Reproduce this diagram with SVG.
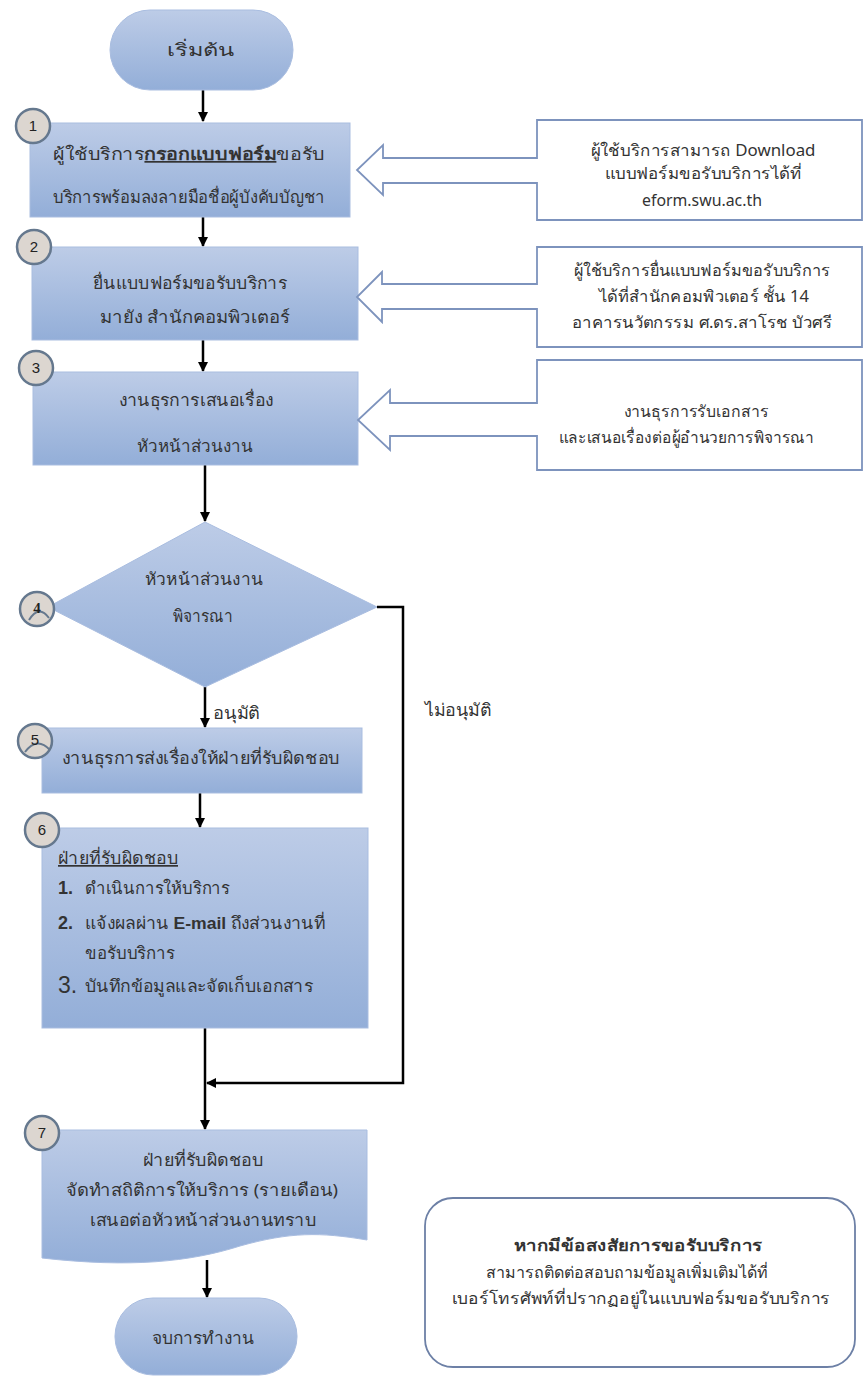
<svg xmlns="http://www.w3.org/2000/svg" width="864" height="1378" viewBox="0 0 864 1378">
<style>
text{font-family:"Noto Sans","DejaVu Sans","Liberation Sans",sans-serif;fill:#333;}
.t{font-size:17px;text-anchor:middle;}
.c{font-size:16px;text-anchor:middle;}
.l{font-size:17px;}
.num{font-family:"Liberation Sans",sans-serif;font-size:15px;text-anchor:middle;fill:#222;}
.box{fill:url(#g);stroke:#a9bde0;stroke-width:1;}
.circ{fill:#dcd6d0;stroke:#65788e;stroke-width:2.5;}
.call{fill:#fff;stroke:#7d93bd;stroke-width:1.8;}
.ln{fill:none;stroke:#000;stroke-width:2.5;}
.arc{fill:none;stroke:#65788e;stroke-width:2;}
</style>
<defs>
<linearGradient id="g" x1="0" y1="0" x2="0" y2="1">
<stop offset="0" stop-color="#bdcce7"/>
<stop offset="1" stop-color="#93aed8"/>
</linearGradient>
<marker id="ah" viewBox="0 0 10 10" refX="9" refY="5" markerWidth="4" markerHeight="4" orient="auto" markerUnits="strokeWidth">
<path d="M0,0 L10,5 L0,10 z" fill="#000"/>
</marker>
</defs>

<g id="connectors">
<path class="ln" d="M203,90 V121" marker-end="url(#ah)"/>
<path class="ln" d="M203,217 V246" marker-end="url(#ah)"/>
<path class="ln" d="M203,340 V371" marker-end="url(#ah)"/>
<path class="ln" d="M205,465 V521" marker-end="url(#ah)"/>
<path class="ln" d="M205,687 V727" marker-end="url(#ah)"/>
<path class="ln" d="M200,793 V827" marker-end="url(#ah)"/>
<path class="ln" d="M205,1028 V1129" marker-end="url(#ah)"/>
<path class="ln" d="M377,607 H403 V1083 H207" marker-end="url(#ah)"/>
<path class="ln" d="M207,1260 V1297" marker-end="url(#ah)"/>
<text x="213" y="719" class="l" textLength="47" lengthAdjust="spacingAndGlyphs">อนุมัติ</text>
<text x="458" y="716" class="t" textLength="67" lengthAdjust="spacingAndGlyphs">ไม่อนุมัติ</text>
</g>

<g id="start">
<rect x="110" y="10" width="183" height="80" rx="40" class="box"/>
<text x="201" y="56" class="t" textLength="68" lengthAdjust="spacingAndGlyphs">เริ่มต้น</text>
</g>

<g id="step1">
<rect x="30" y="123" width="320" height="94" class="box"/>
<text x="189" y="160" class="t" textLength="272" lengthAdjust="spacingAndGlyphs">ผู้ใช้บริการ<tspan font-weight="bold" text-decoration="underline">กรอกแบบฟอร์ม</tspan>ขอรับ</text>
<text x="189" y="203" class="t" textLength="272" lengthAdjust="spacingAndGlyphs">บริการพร้อมลงลายมือชื่อผู้บังคับบัญชา</text>
<circle cx="33" cy="126" r="17" class="circ"/>
<text x="33" y="131" class="num">1</text>
</g>

<g id="note1">
<path class="call" d="M862,120 H537 V158 H383 V145 L357,170 L383,195 V183 H537 V220 H862 Z"/>
<text x="703" y="156" class="c" textLength="225" lengthAdjust="spacingAndGlyphs">ผู้ใช้บริการสามารถ Download</text>
<text x="703" y="179" class="c" textLength="197" lengthAdjust="spacingAndGlyphs">แบบฟอร์มขอรับบริการได้ที่</text>
<text x="702" y="206" class="c" textLength="120" lengthAdjust="spacingAndGlyphs">eform.swu.ac.th</text>
</g>

<g id="step2">
<rect x="32" y="247" width="326" height="93" class="box"/>
<text x="190" y="289" class="t" textLength="194" lengthAdjust="spacingAndGlyphs">ยื่นแบบฟอร์มขอรับบริการ</text>
<text x="195" y="323" class="t" textLength="190" lengthAdjust="spacingAndGlyphs">มายัง สำนักคอมพิวเตอร์</text>
<circle cx="34" cy="247" r="17" class="circ"/>
<text x="34" y="252" class="num">2</text>
</g>

<g id="note2">
<path class="call" d="M862,247 H537 V284 H382 V272 L357,297 L382,322 V309 H537 V347 H862 Z"/>
<text x="702" y="276" class="c" textLength="257" lengthAdjust="spacingAndGlyphs">ผู้ใช้บริการยื่นแบบฟอร์มขอรับบริการ</text>
<text x="704" y="302" class="c" textLength="210" lengthAdjust="spacingAndGlyphs">ได้ที่สำนักคอมพิวเตอร์ ชั้น 14</text>
<text x="702" y="328" class="c" textLength="260" lengthAdjust="spacingAndGlyphs">อาคารนวัตกรรม ศ.ดร.สาโรช บัวศรี</text>
</g>

<g id="step3">
<rect x="33" y="372" width="325" height="93" class="box"/>
<text x="196" y="406" class="t" textLength="155" lengthAdjust="spacingAndGlyphs">งานธุรการเสนอเรื่อง</text>
<text x="195" y="452" class="t" textLength="116" lengthAdjust="spacingAndGlyphs">หัวหน้าส่วนงาน</text>
<circle cx="36" cy="368" r="17" class="circ"/>
<text x="36" y="373" class="num">3</text>
</g>

<g id="note3">
<path class="call" d="M862,360 H537 V403 H390 V390 L358,420 L390,450 V436 H537 V470 H862 Z"/>
<text x="696" y="417" class="c" textLength="145" lengthAdjust="spacingAndGlyphs">งานธุรการรับเอกสาร</text>
<text x="686" y="443" class="c" textLength="255" lengthAdjust="spacingAndGlyphs">และเสนอเรื่องต่อผู้อำนวยการพิจารณา</text>
</g>

<g id="step4">
<polygon points="205,522 377,607 205,687 48,607" class="box"/>
<text x="204" y="585" class="t" textLength="118" lengthAdjust="spacingAndGlyphs">หัวหน้าส่วนงาน</text>
<text x="203" y="622" class="t" textLength="60" lengthAdjust="spacingAndGlyphs">พิจารณา</text>
<circle cx="37" cy="609" r="17" class="circ"/>
<path d="M29,620 Q39,604 49,618" class="arc"/>
<text x="37" y="613" class="num" style="font-family:'Liberation Serif',serif;font-weight:bold">4</text>
</g>

<g id="step5">
<rect x="42" y="728" width="320" height="65" class="box"/>
<text x="201" y="764" class="t" textLength="278" lengthAdjust="spacingAndGlyphs">งานธุรการส่งเรื่องให้ฝ่ายที่รับผิดชอบ</text>
<circle cx="35" cy="741" r="17" class="circ"/>
<path d="M25,752 Q37,736 50,750" class="arc"/>
<text x="35" y="745" class="num">5</text>
</g>

<g id="step6">
<rect x="42" y="828" width="326" height="200" class="box"/>
<text x="58" y="864" class="l" text-decoration="underline" textLength="120" lengthAdjust="spacingAndGlyphs">ฝ่ายที่รับผิดชอบ</text>
<text x="58" y="894" style="font-family:'Liberation Sans',sans-serif;font-size:18px;font-weight:bold">1.</text>
<text x="85" y="894" class="l" textLength="145" lengthAdjust="spacingAndGlyphs">ดำเนินการให้บริการ</text>
<text x="58" y="929" style="font-family:'Liberation Sans',sans-serif;font-size:18px;font-weight:bold">2.</text>
<text x="85" y="929" class="l" textLength="240" lengthAdjust="spacingAndGlyphs">แจ้งผลผ่าน <tspan font-family="Liberation Sans" font-weight="bold">E-mail</tspan> ถึงส่วนงานที่</text>
<text x="85" y="959" class="l" textLength="90" lengthAdjust="spacingAndGlyphs">ขอรับบริการ</text>
<text x="58" y="993" style="font-family:'Liberation Sans',sans-serif;font-size:23px">3.</text>
<text x="85" y="992" class="l" textLength="228" lengthAdjust="spacingAndGlyphs">บันทึกข้อมูลและจัดเก็บเอกสาร</text>
<circle cx="42" cy="830" r="17" class="circ"/>
<text x="42" y="835" class="num">6</text>
</g>

<g id="step7">
<path d="M42,1130 H367 V1240 C320,1232 290,1232 240,1246 C190,1262 130,1268 42,1258 Z" class="box"/>
<text x="203" y="1166" class="t" textLength="121" lengthAdjust="spacingAndGlyphs">ฝ่ายที่รับผิดชอบ</text>
<text x="202" y="1196" class="t" textLength="272" lengthAdjust="spacingAndGlyphs">จัดทำสถิติการให้บริการ (รายเดือน)</text>
<text x="203" y="1226" class="t" textLength="227" lengthAdjust="spacingAndGlyphs">เสนอต่อหัวหน้าส่วนงานทราบ</text>
<circle cx="42" cy="1133" r="17" class="circ"/>
<text x="42" y="1138" class="num">7</text>
</g>

<g id="end">
<rect x="115" y="1298" width="182" height="77" rx="38" class="box"/>
<text x="203" y="1344" class="t" textLength="103" lengthAdjust="spacingAndGlyphs">จบการทำงาน</text>
</g>

<g id="info">
<rect x="425" y="1198" width="430" height="169" rx="28" fill="#fff" stroke="#6d80a6" stroke-width="1.8"/>
<text x="638" y="1251" class="c" font-weight="bold" textLength="249" lengthAdjust="spacingAndGlyphs">หากมีข้อสงสัยการขอรับบริการ</text>
<text x="627" y="1278" class="c" textLength="283" lengthAdjust="spacingAndGlyphs">สามารถติดต่อสอบถามข้อมูลเพิ่มเติมได้ที่</text>
<text x="641" y="1304" class="c" textLength="378" lengthAdjust="spacingAndGlyphs">เบอร์โทรศัพท์ที่ปรากฏอยู่ในแบบฟอร์มขอรับบริการ</text>
</g>
</svg>
